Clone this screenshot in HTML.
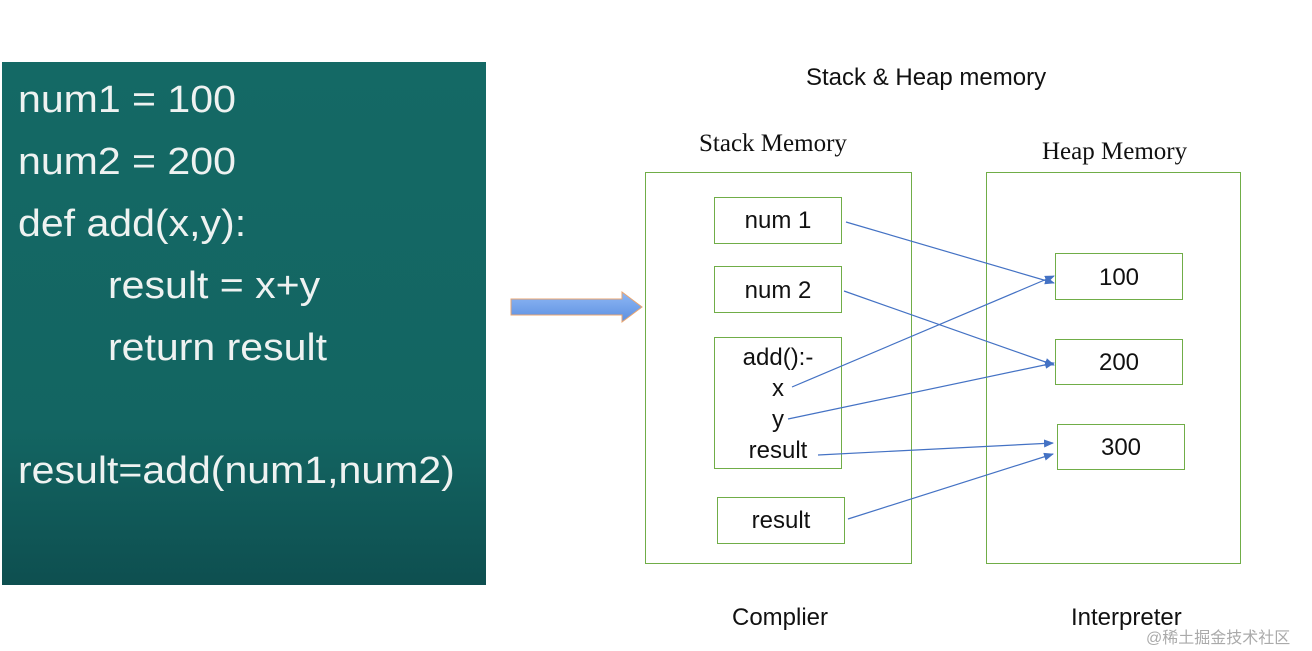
<!DOCTYPE html>
<html><head><style>
body{margin:0;width:1312px;height:651px;background:#fff;position:relative;overflow:hidden;font-family:"Liberation Sans",sans-serif}
.panel{position:absolute;left:2px;top:62px;width:484px;height:523px;background:linear-gradient(#146965 0%,#136562 70%,#0e4f50 100%)}
.code{position:absolute;color:#eef2f1;font-size:38px;left:18px;line-height:1;transform:scaleX(1.08);transform-origin:left top;white-space:nowrap}
.b{position:absolute;border:1px solid #70ad47;box-sizing:border-box}
.t{position:absolute;font-size:24px;color:#111;text-align:center;white-space:nowrap}
.s{position:absolute;font-family:"Liberation Serif",serif;font-size:25px;color:#111}
</style></head><body>
<div class="panel"></div>
<div class="code" style="top:81px">num1 = 100</div>
<div class="code" style="top:143px">num2 = 200</div>
<div class="code" style="top:205px">def add(x,y):</div>
<div class="code" style="top:267px;left:108px">result = x+y</div>
<div class="code" style="top:329px;left:108px">return result</div>
<div class="code" style="top:452px">result=add(num1,num2)</div>

<div class="t" style="left:806px;top:64px">Stack &amp; Heap memory</div>
<div class="s" style="left:699px;top:130px">Stack Memory</div>
<div class="s" style="left:1042px;top:138px">Heap Memory</div>
<div class="t" style="left:732px;top:604px">Complier</div>
<div class="t" style="left:1071px;top:604px">Interpreter</div>
<div style="position:absolute;left:1146px;top:624px;font-size:16px;color:#aaa;font-family:'Liberation Sans','Noto Sans CJK SC',sans-serif">@稀土掘金技术社区</div>

<div class="b" style="left:645px;top:172px;width:267px;height:392px"></div>
<div class="b" style="left:986px;top:172px;width:255px;height:392px"></div>
<div class="b" style="left:714px;top:197px;width:128px;height:47px"></div>
<div class="b" style="left:714px;top:266px;width:128px;height:47px"></div>
<div class="b" style="left:714px;top:337px;width:128px;height:132px"></div>
<div class="b" style="left:717px;top:497px;width:128px;height:47px"></div>
<div class="b" style="left:1055px;top:253px;width:128px;height:47px"></div>
<div class="b" style="left:1055px;top:339px;width:128px;height:46px"></div>
<div class="b" style="left:1057px;top:424px;width:128px;height:46px"></div>

<div class="t" style="left:714px;width:128px;top:207px">num 1</div>
<div class="t" style="left:714px;width:128px;top:277px">num 2</div>
<div class="t" style="left:714px;width:128px;top:342px;line-height:31px">add():-<br>x<br>y<br>result</div>
<div class="t" style="left:717px;width:128px;top:507px">result</div>
<div class="t" style="left:1055px;width:128px;top:264px">100</div>
<div class="t" style="left:1055px;width:128px;top:349px">200</div>
<div class="t" style="left:1057px;width:128px;top:434px">300</div>

<svg width="1312" height="651" style="position:absolute;left:0;top:0">
<defs>
<marker id="a" markerWidth="10" markerHeight="8" refX="9" refY="4" orient="auto" markerUnits="userSpaceOnUse"><path d="M0,0L10,4L0,8z" fill="#4472c4"/></marker>
<linearGradient id="g" x1="0" y1="0" x2="0" y2="1"><stop offset="0" stop-color="#8fb8f5"/><stop offset="1" stop-color="#5c8fe0"/></linearGradient>
</defs>
<path d="M511,299L622,299L622,292L642,307L622,322L622,315L511,315Z" fill="url(#g)" stroke="#e9a570" stroke-width="1"/>
<g stroke="#4472c4" stroke-width="1.2" fill="none" marker-end="url(#a)">
<line x1="846" y1="222" x2="1054" y2="283"/>
<line x1="844" y1="291" x2="1054" y2="365"/>
<line x1="792" y1="387" x2="1054" y2="276"/>
<line x1="788" y1="419" x2="1054" y2="363"/>
<line x1="818" y1="455" x2="1053" y2="443"/>
<line x1="848" y1="519" x2="1053" y2="454"/>
</g>
</svg>
</body></html>
